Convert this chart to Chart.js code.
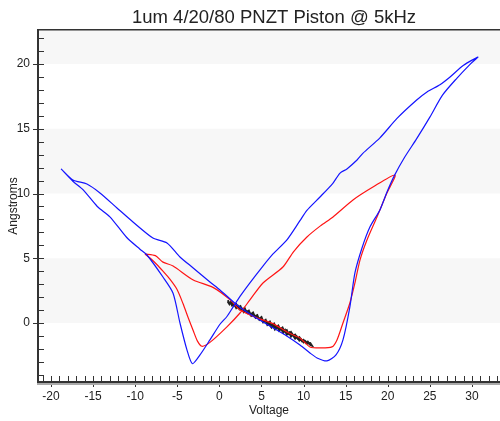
<!DOCTYPE html>
<html>
<head>
<meta charset="utf-8">
<script src="https://cdn.jsdelivr.net/npm/chart.js@4.4.1/dist/chart.umd.min.js"></script>
<style>
html,body{margin:0;padding:0;background:#fff}
</style>
</head>
<body>
<canvas id="c" width="500" height="421"></canvas>
<script>
// Data (Voltage, Angstroms)
var titleText='1um 4/20/80 PNZT Piston @ 5kHz';
var xLabel='Voltage', yLabel='Angstroms';

// blue loop: up-sweep then down-sweep
var blueV=[-18.8,-17.4,-16.2,-14.5,-13.0,-11.0,-9.43,-8.6,-6.7,-5.5,-4.68,-3.85,-3.2,-2.3,-1.12,0.07,0.9,1.6,2.45,3.63,5.06,6.4,8.0,9.57,10.4,11.95,13.5,14.33,15.15,16.35,17.04,19.07,21.1,23.4,24.66,26.2,27.4,29.0,30.7,
  29.8,28.2,26.5,25.0,23.4,22.0,20.8,19.9,19.07,17.88,16.94,16.1,15.5,14.68,13.85,12.78,11.6,10.76,9.57,8.0,6.0,4.0,2.09,0.07,-1.12,-3.11,-4.68,-6.22,-7.89,-10.26,-12.16,-14.18,-15.73,-17.4,-18.8];
var blueA=[11.9,10.95,10.3,9.0,8.2,6.6,5.7,5.25,3.55,2.3,0.0,-2.08,-3.15,-2.47,-1.31,-0.1,0.5,1.2,2.05,3.1,4.3,5.35,6.4,7.9,8.7,9.73,10.81,11.58,11.9,12.59,13.1,14.3,15.8,17.2,17.84,18.4,19.0,19.9,20.54,
  20.0,18.9,17.6,15.9,14.2,12.8,11.4,10.1,8.73,7.41,5.79,3.86,1.24,-1.31,-2.47,-2.93,-2.7,-2.32,-1.7,-1.0,-0.23,0.54,1.39,2.55,3.17,4.25,5.1,6.18,6.56,7.8,8.88,10.04,10.73,11.05,11.9];

// red loop
var redV=[-8.84,-8.2,-7.4,-6.7,-5.9,-5.04,-4.32,-3.7,-3.1,-2.6,-2.07,-1.12,0.9,2.45,3.63,5.18,7.55,8.8,10.4,12.0,13.5,15.87,18.24,20.86,
  19.9,18.72,17.53,16.7,16.1,15.5,14.68,13.97,13.37,11.95,10.76,9.57,8.03,6.37,4.47,2.45,1.26,-0.76,-3.1,-5.5,-6.7,-7.6,-8.84];
var redA=[5.33,5.0,4.5,4.0,3.4,2.6,1.5,0.4,-0.6,-1.4,-1.8,-1.5,-0.3,0.77,1.78,3.09,4.32,5.5,6.64,7.5,8.19,9.5,10.5,11.43,
  10.04,8.19,6.41,4.86,3.09,1.54,0.0,-1.31,-1.85,-1.93,-1.85,-1.16,-0.7,-0.05,0.39,1.0,1.8,2.75,3.32,4.4,4.7,5.2,5.33];

// black noisy trace, out and back
var blackV=[1.0,1.2,1.35,1.5,1.8,2.0,2.2,2.4,2.7,2.9,3.1,3.4,3.6,3.8,4.1,4.3,4.5,4.8,5.0,5.2,5.5,5.7,5.9,6.2,6.4,6.6,6.9,7.1,7.3,7.6,7.8,8.0,8.3,8.5,8.7,9.0,9.2,9.5,9.7,10.0,10.2,10.5,10.8,11.0,
  10.8,10.5,10.3,10.0,9.8,9.5,9.3,9.0,8.8,8.5,8.2,8.0,7.7,7.5,7.2,7.0,6.7,6.5,6.2,6.0,5.7,5.5,5.2,5.0,4.7,4.5,4.2,4.0,3.7,3.5,3.2,3.0,2.7,2.5,2.2,2.0,1.7,1.5,1.2,1.0];
var blackA=[1.65,1.45,1.6,1.35,1.4,1.15,1.3,1.05,1.1,0.85,1.0,0.75,0.8,0.55,0.65,0.4,0.5,0.25,0.35,0.05,0.15,-0.15,-0.05,-0.35,-0.2,-0.5,-0.3,-0.6,-0.45,-0.75,-0.55,-0.9,-0.75,-1.05,-0.9,-1.2,-1.05,-1.35,-1.25,-1.5,-1.4,-1.6,-1.55,-1.75,
  -1.7,-1.45,-1.55,-1.3,-1.4,-1.1,-1.2,-0.9,-1.0,-0.7,-0.85,-0.55,-0.65,-0.35,-0.5,-0.2,-0.35,-0.05,-0.2,0.1,-0.05,0.25,0.1,0.45,0.3,0.6,0.5,0.8,0.65,0.95,0.85,1.15,1.0,1.3,1.2,1.45,1.35,1.6,1.5,1.75];

var xRange=[-21.54,33.33], yRange=[-4.56,22.63];
var bandStarts=[0,10,20]; // shaded 5-unit bands

function pts(xs,ys){return xs.map(function(x,i){return {x:x,y:ys[i]}})}

var FONT='"Liberation Sans", Arial, sans-serif';

var decor={
  id:'decor',
  beforeDatasetsDraw:function(chart){
    var ctx=chart.ctx,a=chart.chartArea,ys=chart.scales.y;
    ctx.save();
    ctx.fillStyle='#f7f7f7';
    bandStarts.forEach(function(b){
      var y1=Math.max(a.top,ys.getPixelForValue(b+5)),y2=Math.min(a.bottom,ys.getPixelForValue(b));
      ctx.fillRect(a.left,y1,a.right-a.left,y2-y1);
    });
    ctx.restore();
  },
  afterDraw:function(chart){
    var ctx=chart.ctx,a=chart.chartArea,xs=chart.scales.x,ys=chart.scales.y;
    ctx.save();
    ctx.strokeStyle='#333';ctx.lineWidth=1;
    ctx.beginPath();
    for(var v=Math.ceil(xRange[0]);v<=xRange[1];v++){
      var px=Math.round(xs.getPixelForValue(v))+0.5;
      ctx.moveTo(px,a.bottom);ctx.lineTo(px,a.bottom-6);
      if(v%5===0){ctx.moveTo(px,a.bottom);ctx.lineTo(px,a.bottom+5)}
    }
    for(var w=Math.ceil(yRange[0]);w<=yRange[1];w++){
      var py=Math.round(ys.getPixelForValue(w))+0.5;
      ctx.moveTo(a.left,py);ctx.lineTo(a.left+6,py);
      if(w%5===0){ctx.moveTo(a.left,py);ctx.lineTo(a.left-5,py)}
    }
    ctx.stroke();
    // frame
    ctx.fillStyle='#aaa';
    ctx.fillRect(a.left-1,a.bottom+1,a.right-a.left+1,2);
    ctx.fillStyle='#333';
    ctx.fillRect(a.left-1,a.top-1,2,a.bottom-a.top+2);
    ctx.fillRect(a.left-1,a.bottom-1,a.right-a.left+1,2);
    ctx.fillRect(a.left,a.top-1,a.right-a.left,1.5);
    // title
    ctx.fillStyle='#222';
    ctx.font='18.5px '+FONT;
    ctx.textAlign='center';ctx.textBaseline='middle';
    ctx.fillText(titleText,274,18);
    ctx.restore();
  }
};

new Chart(document.getElementById('c'),{
  type:'scatter',
  data:{datasets:[
    {data:pts(blueV,blueA),borderColor:'#1414ff',borderWidth:1.2,tension:0.25},
    {data:pts(redV,redA),borderColor:'#ff1414',borderWidth:1.2,tension:0.25},
    {data:pts(blackV,blackA),borderColor:'#222',borderWidth:2,tension:0}
  ].map(function(d){d.showLine=true;d.pointRadius=0;d.fill=false;return d})},
  options:{
    responsive:false,
    animation:false,
    layout:{padding:{top:30,right:0,left:0,bottom:0}},
    plugins:{legend:{display:false},tooltip:{enabled:false}},
    scales:{
      x:{
        type:'linear',min:xRange[0],max:xRange[1],
        grid:{display:false,drawTicks:false},border:{display:false},
        ticks:{stepSize:5,includeBounds:false,autoSkip:false,maxRotation:0,padding:7,color:'#222',font:{family:FONT,size:12}},
        title:{display:true,text:xLabel,color:'#222',font:{family:FONT,size:12},padding:{top:0,bottom:3}},
        afterFit:function(s){s.height=39}
      },
      y:{
        type:'linear',min:yRange[0],max:yRange[1],
        grid:{display:false,drawTicks:false},border:{display:false},
        ticks:{stepSize:5,includeBounds:false,autoSkip:false,padding:8,color:'#222',font:{family:FONT,size:12}},
        title:{display:true,text:yLabel,color:'#222',font:{family:FONT,size:12},padding:{top:6,bottom:0}},
        afterFit:function(s){s.width=38}
      }
    }
  },
  plugins:[decor]
});
</script>
</body>
</html>
